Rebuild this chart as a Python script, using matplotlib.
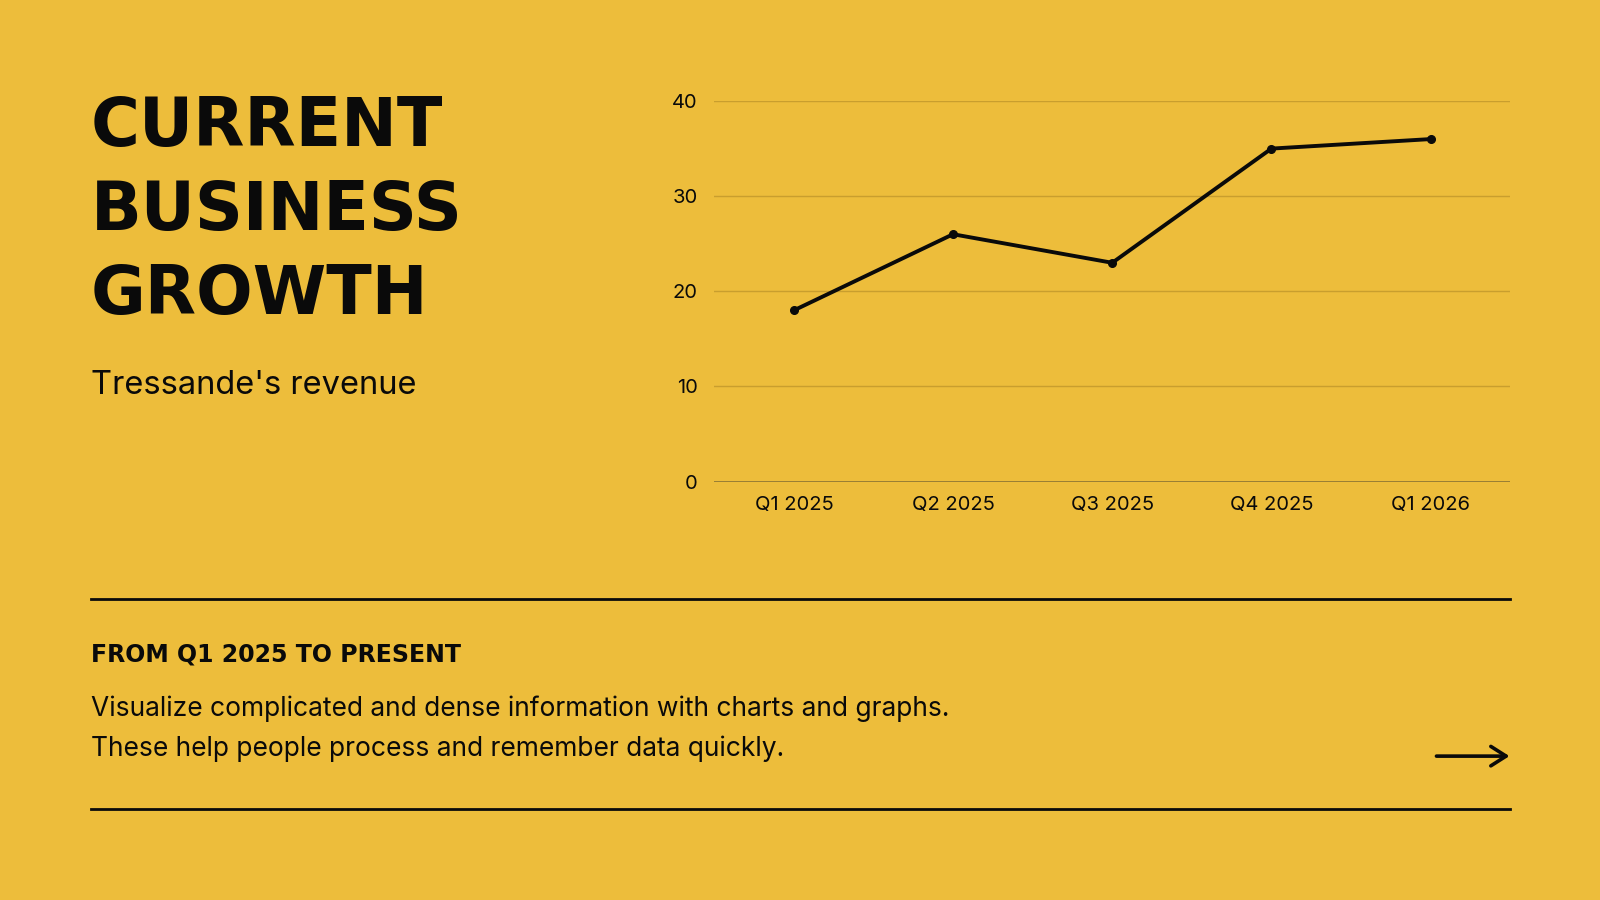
import matplotlib
matplotlib.use("Agg")
import matplotlib.pyplot as plt

# data
quarters = ["Q1 2025", "Q2 2025", "Q3 2025", "Q4 2025", "Q1 2026"]
revenue = [18, 26, 23, 35, 36]
yticks = [0, 10, 20, 30, 40]

title_lines = ["CURRENT", "BUSINESS", "GROWTH"]
subtitle = "Tressande's revenue"
section_head = "FROM Q1 2025 TO PRESENT"
body_lines = ["Visualize complicated and dense information with charts and graphs.",
              "These help people process and remember data quickly."]

BG = "#EDBD3B"
GRID = "#C99E2E"
INK = "#0A0A0A"

W, H = 1568.0, 882.0
def fx(px):
    return px / W
def fy(py):
    return 1 - py / H

fig = plt.figure(figsize=(16, 9), dpi=100, facecolor=BG)

# title block
for i, line in enumerate(title_lines):
    fig.text(fx(89), fy([143, 225, 308][i]), line, fontsize=48, fontweight="bold",
             family="DejaVu Sans", color=INK, va="baseline", ha="left")
fig.text(fx(89), fy(386), subtitle, fontsize=23.5, family="Inter", color=INK,
         va="baseline", ha="left")

# chart
ax = fig.add_axes([fx(700), fy(472), fx(1480) - fx(700), fy(99) - fy(472)])
ax.set_facecolor(BG)
x = list(range(len(quarters)))
ax.plot(x, revenue, color=INK, lw=2.8, marker="o", markersize=5.5, zorder=3)
ax.set_xlim(-0.5, len(quarters) - 0.5)
ax.set_ylim(0, 40)
ax.set_yticks(yticks)
ax.set_xticks(x)
ax.set_xticklabels(quarters)
for s in ax.spines.values():
    s.set_visible(False)
ax.yaxis.grid(True, color=GRID, lw=1)
ax.axhline(0, color="#8C7434", lw=1.2, zorder=2)
ax.set_axisbelow(True)
ax.tick_params(length=0, labelsize=14.5, colors=INK)
ax.tick_params(axis="x", pad=10)
ax.tick_params(axis="y", pad=12)
for lab in ax.get_xticklabels() + ax.get_yticklabels():
    lab.set_family("Inter")

# divider lines
for yy in (587, 793):
    fig.add_artist(plt.Line2D([fx(89), fx(1480)], [fy(yy), fy(yy)], color=INK, lw=2))

fig.text(fx(89), fy(648), section_head, fontsize=17, fontweight="bold", family="DejaVu Sans",
         color=INK, va="baseline", ha="left")
fig.text(fx(89), fy(702), body_lines[0], fontsize=19, family="Inter", color=INK,
         va="baseline", ha="left")
fig.text(fx(89), fy(741), body_lines[1], fontsize=19, family="Inter", color=INK,
         va="baseline", ha="left")

# arrow
fig.add_artist(matplotlib.patches.FancyArrowPatch((fx(1405), fy(741)), (fx(1482), fy(741)),
               transform=fig.transFigure, arrowstyle="->,head_length=11,head_width=7",
               color=INK, lw=2.6, mutation_scale=1))

fig.savefig("out.png", dpi=100, facecolor=BG)
